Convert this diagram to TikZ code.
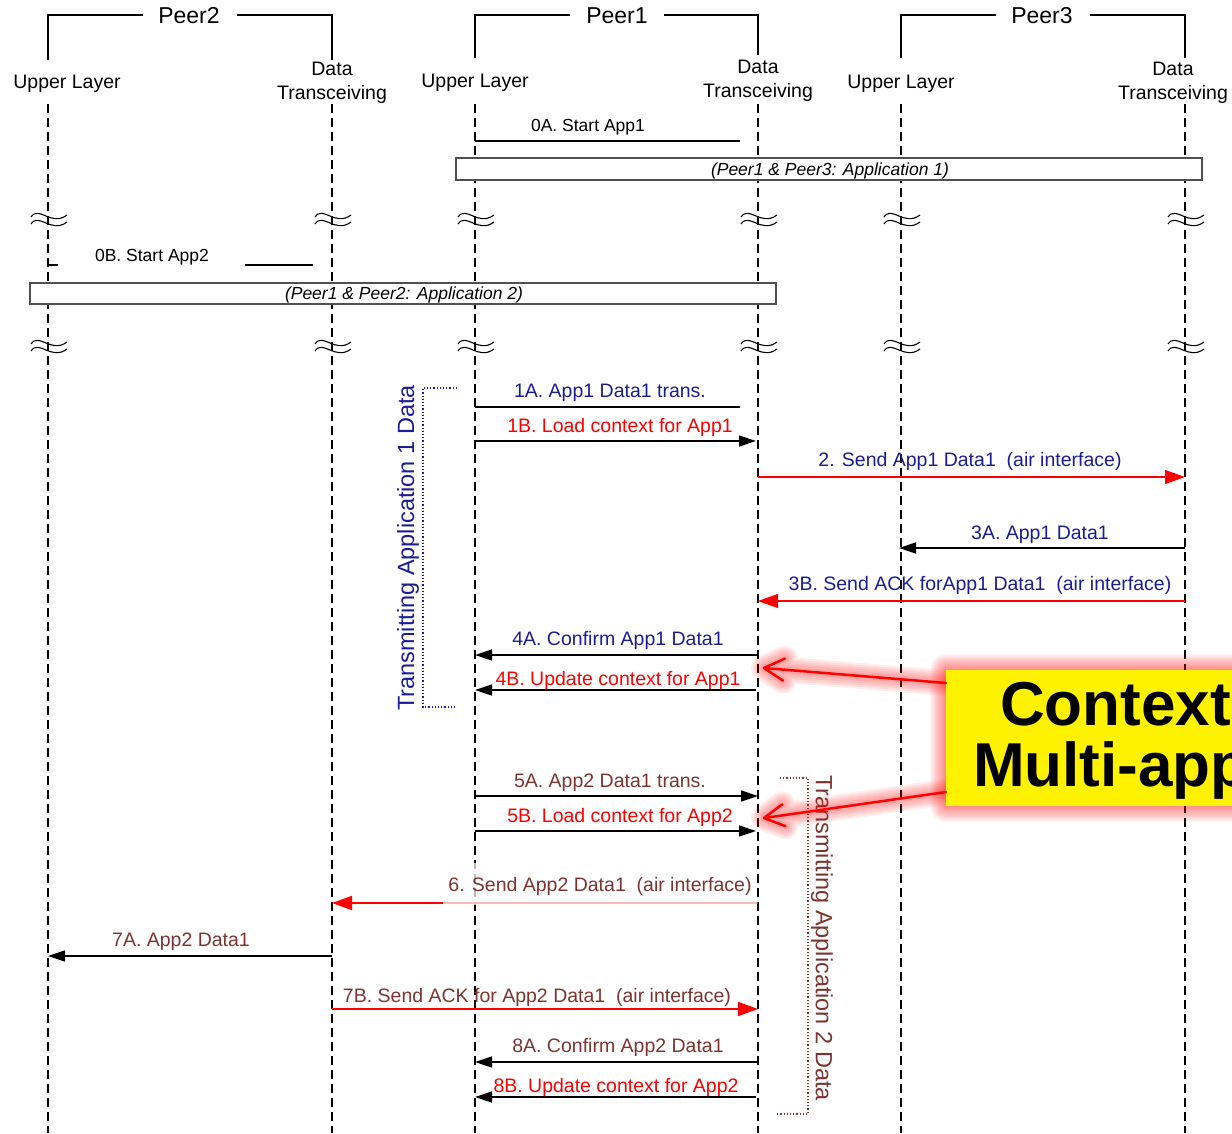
\documentclass[tikz,border=0pt]{standalone}
\usepackage{fontspec}
\setmainfont{Liberation Sans}
\usetikzlibrary{arrows.meta}
\definecolor{msgblue}{RGB}{28,28,150}
\definecolor{msgbrown}{RGB}{125,52,48}
\definecolor{boxgray}{RGB}{80,80,80}
\begin{document}
\begin{tikzpicture}[x=1pt,y=-1pt,
  lifeline/.style={dash pattern=on 9pt off 5pt, line width=1.2pt},
  hdr/.style={anchor=base, inner sep=0pt, font=\fontsize{23}{27}\selectfont},
  lane/.style={anchor=base, inner sep=0pt, font=\fontsize{19.5}{23}\selectfont},
  lbl/.style={anchor=base, inner sep=0pt, font=\fontsize{19.5}{23}\selectfont},
  small/.style={anchor=base, inner sep=0pt, font=\fontsize{17.5}{21}\selectfont},
  note/.style={anchor=base, inner sep=0pt, font=\fontsize{17.5}{21}\selectfont\itshape},
  vlbl/.style={inner sep=0pt, font=\fontsize{23.5}{27}\selectfont},
  plain/.style={line width=1.5pt},
  blk/.style={line width=1.5pt, -{Triangle[length=17pt,width=11pt]}},
  redar/.style={red, line width=1.2pt, -{Triangle[length=20pt,width=14pt]}},
  abox/.style={draw=boxgray, fill=white, line width=1.2pt},
  squig/.pic={
    \draw[line width=1.1pt] (-17,-1) .. controls (-9,-13) and (3,9) .. (19,-3);
    \draw[line width=1.1pt] (-17,6) .. controls (-9,-6) and (3,16) .. (19,4);
  }
]
\useasboundingbox (0,0) rectangle (1232,1133);
\clip (0,0) rectangle (1232,1133);

% lifeline coordinates
\coordinate (p2u) at (48,0);
\coordinate (p2d) at (332,0);
\coordinate (p1u) at (475,0);
\coordinate (p1d) at (758,0);
\coordinate (p3u) at (901,0);
\coordinate (p3d) at (1185,0);

% headers
\node[hdr] (h2) at (189,23) {Peer2};
\node[hdr] (h1) at (617,23) {Peer1};
\node[hdr] (h3) at (1042,23) {Peer3};
\draw[line width=1.2pt] (48,60) |- (143,15);
\draw[line width=1.2pt] (237,15) -| (332,60);
\draw[line width=1.2pt] (475,58) |- (570,15);
\draw[line width=1.2pt] (664,15) -| (758,55);
\draw[line width=1.2pt] (901,58) |- (996,15);
\draw[line width=1.2pt] (1090,15) -| (1185,58);

\node[lane] (ul2) at (67,88) {Upper Layer};
\node[lane] (ul1) at (475,87) {Upper Layer};
\node[lane] (ul3) at (901,88) {Upper Layer};
\node[lane] (dt2a) at (332,75) {Data};
\node[lane] (dt2b) at (332,99) {Transceiving};
\node[lane] (dt1a) at (758,73) {Data};
\node[lane] (dt1b) at (758,97) {Transceiving};
\node[lane] (dt3a) at (1173,75) {Data};
\node[lane] (dt3b) at (1173,99) {Transceiving};

% lifelines
\foreach \c in {p2u,p2d,p1u,p1d,p3u,p3d}{
  \draw[lifeline] (\c |- 0,104) -- (\c |- 0,1133);
  \pic at (\c |- 0,218) {squig};
  \pic at (\c |- 0,345) {squig};
}

% 0A
\node[small] (l0a) at (588,131) {0A. Start App1};
\draw[plain, shorten >=18pt] (p1u |- 0,141) -- (p1d |- 0,141);
\node[abox, minimum width=746pt, minimum height=22pt, inner sep=0pt] (app1) at (829,169) {};
\node[note] (app1t) at (830,175) {(Peer1 \& Peer3: Application 1)};

% 0B
\draw[plain, shorten >=19pt] (p2u |- 0,265) -- (p2d |- 0,265);
\fill[white] (58,252) rectangle (245,270);
\node[small] (l0b) at (152,261) {0B. Start App2};
\node[abox, minimum width=746pt, minimum height=21pt, inner sep=0pt] (app2) at (403,293.5) {};
\node[note] (app2t) at (404,299) {(Peer1 \& Peer2: Application 2)};

% Application 1 bracket
\draw[msgblue, dotted, line width=1.2pt] (457,388) -- (423,388) -- (423,707) -- (455,707);
\node[vlbl, text=msgblue, rotate=90] (tr1) at (408,548) {Transmitting Application 1 Data};

% 1A
\node[lbl, text=msgblue] (l1a) at (610,397) {1A. App1 Data1 trans.};
\draw[plain, shorten >=18pt] (p1u |- 0,407) -- (p1d |- 0,407);
% 1B
\node[lbl, text=red] (l1b) at (620,432) {1B. Load context for App1};
\draw[blk, shorten >=2pt] (p1u |- 0,441) -- (p1d |- 0,441);
% 2
\node[lbl, text=msgblue] (l2) at (970,466) {2. Send App1 Data1~~(air interface)};
\draw[redar] (p1d |- 0,477) -- (p3d |- 0,477);
% 3A
\node[lbl, text=msgblue] (l3a) at (1040,539) {3A. App1 Data1};
\draw[blk, shorten >=-2pt] (p3d |- 0,548) -- (p3u |- 0,548);
% 3B
\node[lbl, text=msgblue] (l3b) at (980,590) {3B. Send ACK forApp1 Data1~~(air interface)};
\draw[redar] (p3d |- 0,601) -- (p1d |- 0,601);
% 4A
\node[lbl, text=msgblue] (l4a) at (618,645) {4A. Confirm App1 Data1};
\draw[blk] (p1d |- 0,655) -- (p1u |- 0,655);
% 4B
\node[lbl, text=red] (l4b) at (618,685) {4B. Update context for App1};
\draw[blk, shorten <=2pt] (p1d |- 0,690) -- (p1u |- 0,690);

% Application 2 bracket
\draw[msgbrown, dotted, line width=1.2pt] (780,778) -- (808,778) -- (808,1114) -- (776,1114);
\node[vlbl, text=msgbrown, rotate=-90] (tr2) at (822,938) {Transmitting Application 2 Data};

% 5A
\node[lbl, text=msgbrown] (l5a) at (610,787) {5A. App2 Data1 trans.};
\draw[blk] (p1u |- 0,796) -- (p1d |- 0,796);
% 5B
\node[lbl, text=red] (l5b) at (620,822) {5B. Load context for App2};
\draw[blk, shorten >=2pt] (p1u |- 0,831) -- (p1d |- 0,831);
% 6
\draw[red, line width=2pt, -{Triangle[length=20pt,width=14pt]}] (p1d |- 0,903) -- (p2d |- 0,903);
\fill[white, opacity=0.72] (443,863) rectangle (757,905);
\node[lbl, text=msgbrown] (l6) at (600,891) {6. Send App2 Data1~~(air interface)};
% 7A
\node[lbl, text=msgbrown] (l7a) at (181,946) {7A. App2 Data1};
\draw[blk] (p2d |- 0,956) -- (p2u |- 0,956);
% 7B
\node[lbl, text=msgbrown] (l7b) at (537,1002) {7B. Send ACK for App2 Data1~~(air interface)};
\draw[red, line width=1.6pt, -{Triangle[length=20pt,width=14pt]}] (p2d |- 0,1009) -- (p1d |- 0,1009);
% 8A
\node[lbl, text=msgbrown] (l8a) at (618,1052) {8A. Confirm App2 Data1};
\draw[blk] (p1d |- 0,1062) -- (p1u |- 0,1062);
% 8B
\draw[blk, shorten <=2pt] (p1d |- 0,1097) -- (p1u |- 0,1097);
\node[lbl, text=red] (l8b) at (616,1092) {8B. Update context for App2};

% callout
\coordinate (t1) at (764,668);
\coordinate (b1a) at (783,680.6);
\coordinate (b1b) at (784.8,658.6);
\coordinate (t2) at (764,818);
\coordinate (b2a) at (785.3,826.1);
\coordinate (b2b) at (782.2,804.3);
\coordinate (s1) at (946,683);
\coordinate (s2) at (946,792);
\foreach \w in {6,10,14,18,22,26}{
  \draw[red, opacity=0.07, line width=\w pt, line cap=round, line join=round] (s1) -- (t1) (b1a) -- (t1) -- (b1b);
  \draw[red, opacity=0.07, line width=\w pt, line cap=round, line join=round] (s2) -- (t2) (b2a) -- (t2) -- (b2b);
}
\foreach \i in {1,...,16}{
  \fill[red, opacity=0.035, rounded corners=\i pt] (946-\i,670-\i) rectangle (1300,806+\i);
}
\node[fill=yellow, inner sep=0pt, minimum width=330pt, minimum height=136pt, anchor=north west] (ctx) at (946,670) {};
\node[anchor=base west, inner sep=0pt, font=\fontsize{62}{70}\selectfont\bfseries] (ctx1) at (1000,725) {Context};
\node[anchor=base west, inner sep=0pt, font=\fontsize{62}{70}\selectfont\bfseries] (ctx2) at (973,786) {Multi-app};
\draw[red, line width=2.5pt, line cap=round, line join=round] (s1) -- (t1) (b1a) -- (t1) -- (b1b);
\draw[red, line width=2.5pt, line cap=round, line join=round] (s2) -- (t2) (b2a) -- (t2) -- (b2b);
\end{tikzpicture}
\end{document}
